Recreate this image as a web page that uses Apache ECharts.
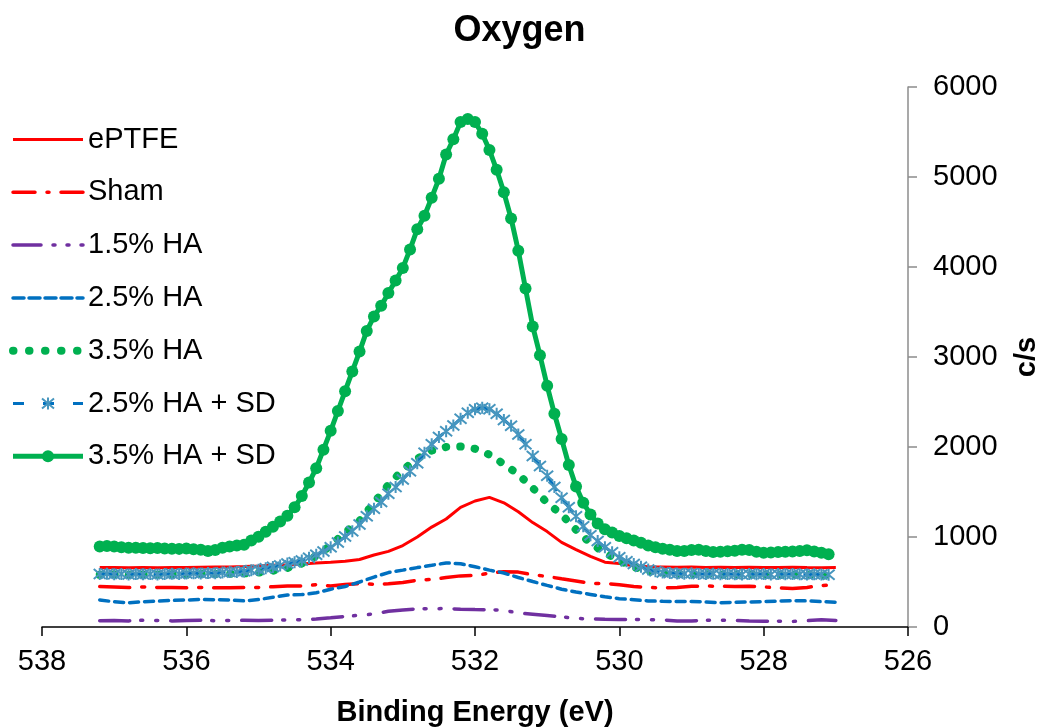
<!DOCTYPE html>
<html>
<head>
<meta charset="utf-8">
<script src="https://cdn.jsdelivr.net/npm/echarts@6/dist/echarts.min.js"></script>
<style>
html,body{margin:0;padding:0;background:#fff;}
#chart{width:1039px;height:728px;}
</style>
</head>
<body>
<div id="chart"></div>
<script>
// Binding energy grids (eV): fine grid for the marker series, coarse grid for plain lines
const fineStart = 537.2, fineStep = 0.1, fineCount = 102;
const coarseStart = 537.2, coarseStep = 0.2, coarseCount = 52;

const seriesNames = ['ePTFE', 'Sham', '1.5% HA', '2.5% HA', '3.5% HA', '2.5% HA + SD', '3.5% HA + SD'];
const xTicks = [538, 536, 534, 532, 530, 528, 526];
const yTicks = [0, 1000, 2000, 3000, 4000, 5000, 6000];

// c/s values on the coarse grid (0.2 eV)
const ePTFE = [660,662,658,660,657,662,660,665,668,668,
  672,678,685,692,700,712,720,730,750,800,
  840,905,1000,1110,1200,1330,1400,1440,1380,1280,
  1160,1060,940,860,785,720,705,680,670,668,
  665,668,662,665,660,663,660,662,665,660,
  658,660];
const sham = [450,445,438,445,440,438,435,440,435,435,
  438,440,448,455,455,470,455,472,482,475,
  480,495,520,528,550,568,574,598,615,610,
  580,562,535,510,485,483,470,450,440,435,
  440,452,455,453,450,453,445,435,428,440,
  460,470];
const ha15 = [70,72,68,75,72,68,72,74,70,72,
  74,72,75,78,80,88,102,118,130,145,
  175,190,202,203,205,198,194,192,186,155,
  142,128,114,95,90,85,82,83,82,78,
  68,68,76,75,72,68,65,65,62,70,
  80,72];
const ha25 = [300,280,270,280,287,295,300,305,302,300,
  290,305,330,355,360,380,420,450,500,555,
  605,632,660,685,712,702,670,632,600,550,
  505,462,420,388,362,335,315,303,290,285,
  282,284,278,270,275,278,282,287,293,290,
  282,276];
const ha35 = [580,585,578,582,580,585,582,588,590,592,
  595,605,625,655,705,790,905,1050,1180,1380,
  1580,1745,1870,1960,2000,2005,1980,1915,1810,1695,
  1545,1380,1250,1080,930,825,735,665,620,598,
  590,585,588,582,580,585,580,578,582,580,
  575,565];
// c/s values on the fine grid (0.1 eV)
const ha25sd = [588,592,585,590,583,588,585,590,584,588,
  592,590,594,597,595,600,598,605,610,612,
  620,630,637,652,668,683,705,720,740,770,
  802,840,885,940,1005,1065,1140,1230,1315,1390,
  1480,1555,1640,1730,1820,1935,2030,2110,2175,2240,
  2315,2380,2420,2436,2420,2370,2300,2235,2140,2030,
  1900,1790,1680,1555,1435,1330,1230,1120,1020,955,
  885,830,775,730,700,670,640,620,605,600,
  595,592,597,590,588,593,585,590,587,584,
  590,586,589,583,588,585,590,586,582,587,
  583,580];
const ha35sd = [895,900,895,885,880,880,878,875,878,872,
  870,868,872,865,858,845,855,880,895,905,
  915,960,1002,1058,1115,1172,1235,1330,1455,1605,
  1765,1970,2180,2400,2620,2840,3060,3290,3450,3570,
  3710,3850,3990,4195,4420,4570,4770,4980,5250,5420,
  5610,5645,5610,5480,5300,5080,4830,4540,4180,3760,
  3340,3020,2680,2370,2090,1800,1560,1380,1250,1150,
  1085,1050,1010,985,960,935,905,885,870,858,
  845,845,855,858,845,832,835,842,848,858,
  855,835,825,828,832,836,840,845,852,840,
  825,808];

function grid(start, step, n) {
  const out = [];
  for (let i = 0; i < n; i++) out.push(Math.round((start - step * i) * 100) / 100);
  return out;
}
const eFine = grid(fineStart, fineStep, fineCount);
const eCoarse = grid(coarseStart, coarseStep, coarseCount);
const pair = (xs, ys) => ys.map((v, i) => [xs[i], v]);

const FONT = '"Liberation Sans", Arial, sans-serif';
const asterisk = 'path://M0,0L10,10M10,0L0,10M5,-1L5,11';

// line styles per series (used for both the plot and legend)
const styles = [
  {color: '#ff0000', width: 3, type: 'solid'},
  {color: '#ff0000', width: 3.5, type: [30, 12, 3, 12], cap: 'round'},
  {color: '#7030a0', width: 3.5, type: [30, 11, 2, 13, 2, 13], cap: 'round'},
  {color: '#0070c0', width: 3.5, type: [9, 6], cap: 'round'},
  {color: '#00b050', width: 8, type: [0.5, 14], cap: 'round'},
  {color: '#0070c0', width: 3, type: [18, 9]},
  {color: '#00b050', width: 5, type: 'solid'}
];
const legendStyles = [
  {color: '#ff0000', width: 3, type: 'solid'},
  {color: '#ff0000', width: 3.5, type: [22, 12, 2, 12], cap: 'round'},
  {color: '#7030a0', width: 3.5, type: [28, 12, 2, 12, 2, 12], cap: 'round'},
  {color: '#0070c0', width: 3.5, type: [11, 5], cap: 'round'},
  {color: '#00b050', width: 8, type: [0.5, 15.5], cap: 'round'},
  {color: '#0070c0', width: 3, type: [11, 19]},
  {color: '#00b050', width: 5, type: 'solid'}
];
const hasMarker = [false, false, false, false, false, true, true];

const chart = echarts.init(document.getElementById('chart'), null, {renderer: 'canvas'});
chart.setOption({
  animation: false,
  backgroundColor: '#ffffff',
  title: {
    text: 'Oxygen', left: 'center', top: 8,
    textStyle: {fontFamily: FONT, fontSize: 36, fontWeight: 'bold', color: '#000'}
  },
  legend: {
    orient: 'vertical', left: 9, top: 125, padding: 0,
    itemWidth: 70, itemHeight: 15, itemGap: 23.8,
    data: seriesNames.map((n, i) => ({
      name: n,
      lineStyle: legendStyles[i],
      itemStyle: hasMarker[i] ? undefined : {opacity: 0}
    })),
    textStyle: {fontFamily: FONT, fontSize: 29, color: '#000', lineHeight: 29}
  },
  grid: {left: 42, right: 131, top: 87, bottom: 101, containLabel: false, outerBoundsMode: 'none'},
  xAxis: {
    type: 'value', inverse: true, min: 526, max: 538, interval: 2,
    name: 'Binding Energy (eV)', nameLocation: 'middle', nameGap: 71,
    nameTextStyle: {fontFamily: FONT, fontSize: 29, fontWeight: 'bold', color: '#000'},
    axisLine: {show: true, lineStyle: {color: '#000', width: 1.5}},
    axisTick: {show: true, length: 9, lineStyle: {color: '#000', width: 1.5}},
    axisLabel: {fontFamily: FONT, fontSize: 29, color: '#000', margin: 20,
      formatter: v => xTicks.includes(v) ? String(v) : ''},
    splitLine: {show: false}
  },
  yAxis: {
    type: 'value', position: 'right', min: 0, max: 6000, interval: 1000,
    name: 'c/s', nameLocation: 'middle', nameGap: 104,
    nameTextStyle: {fontFamily: FONT, fontSize: 29, fontWeight: 'bold', color: '#000'},
    axisLine: {show: true, onZero: false, lineStyle: {color: '#8c8c8c', width: 1.5}},
    axisTick: {show: true, length: 9, lineStyle: {color: '#8c8c8c', width: 1.5}},
    axisLabel: {fontFamily: FONT, fontSize: 29, color: '#000', margin: 25,
      formatter: v => yTicks.includes(v) ? String(v) : ''},
    splitLine: {show: false}
  },
  series: [
    {name: seriesNames[0], type: 'line', data: pair(eCoarse, ePTFE), symbol: 'none',
      itemStyle: {color: styles[0].color}, lineStyle: styles[0]},
    {name: seriesNames[1], type: 'line', data: pair(eCoarse, sham), symbol: 'none',
      itemStyle: {color: styles[1].color}, lineStyle: styles[1]},
    {name: seriesNames[2], type: 'line', data: pair(eCoarse, ha15), symbol: 'none',
      itemStyle: {color: styles[2].color}, lineStyle: styles[2]},
    {name: seriesNames[3], type: 'line', data: pair(eCoarse, ha25), symbol: 'none',
      itemStyle: {color: styles[3].color}, lineStyle: styles[3]},
    {name: seriesNames[4], type: 'line', data: pair(eCoarse, ha35), symbol: 'none',
      itemStyle: {color: styles[4].color}, lineStyle: styles[4]},
    {name: seriesNames[5], type: 'line', data: pair(eFine, ha25sd),
      symbol: asterisk, symbolSize: 12, showAllSymbol: true,
      itemStyle: {color: 'rgba(0,0,0,0)', borderColor: '#4796be', borderWidth: 2},
      lineStyle: styles[5]},
    {name: seriesNames[6], type: 'line', data: pair(eFine, ha35sd),
      symbol: 'circle', symbolSize: 12, showAllSymbol: true,
      itemStyle: {color: '#00b050', borderWidth: 0},
      lineStyle: styles[6]}
  ]
});
</script>
</body>
</html>
